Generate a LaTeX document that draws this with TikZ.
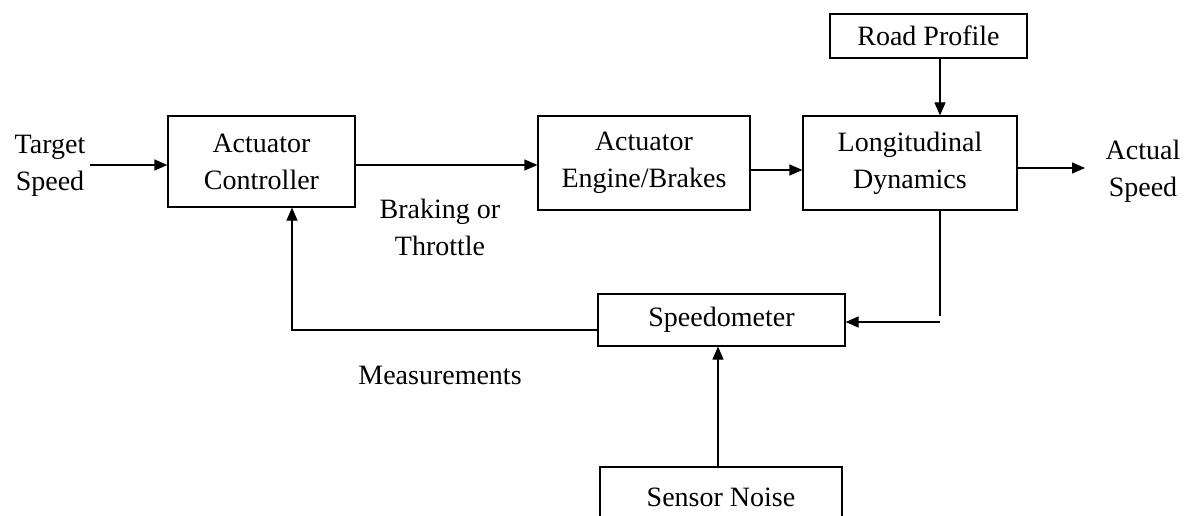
\documentclass[tikz,border=0pt]{standalone}
\usepackage{fontspec}
\setmainfont{Liberation Serif}
\usetikzlibrary{arrows.meta}
\begin{document}
\begin{tikzpicture}[x=1pt,y=-1pt,
  blk/.style={draw, line width=1.2pt, rectangle, inner sep=0pt, align=center, font=\fontsize{28}{37}\selectfont},
  lbl/.style={align=center, inner sep=0pt, font=\fontsize{28}{37}\selectfont},
  arr/.style={line width=1.2pt, -{Triangle[length=13pt,width=11pt]}},
  ln/.style={line width=1.2pt}]
\clip (0,0) rectangle (1194,516);
\fill[white] (0,0) rectangle (1194,516);
\node[blk, minimum width=187pt, minimum height=91pt] (ctrl) at (261.5,161.5) {Actuator\\Controller};
\node[blk, minimum width=212pt, minimum height=94pt] (eng) at (644,163) {Actuator\\Engine/Brakes};
\node[blk, minimum width=214pt, minimum height=94pt] (long) at (910,163) {Longitudinal\\Dynamics};
\node[blk, minimum width=197pt, minimum height=44pt] (road) at (928.5,36) {Road Profile};
\node[blk, minimum width=247pt, minimum height=52pt] (spd) at (721.5,320) {\raisebox{-7pt}{Speedometer}};
\node[blk, minimum width=242pt, minimum height=70pt] (noise) at (721,502) {\raisebox{9pt}{Sensor Noise}};
\node[lbl] (target) at (50,166) {Target\\Speed};
\node[lbl] (actual) at (1143,171) {Actual\\Speed};
\node[lbl] (brake) at (440,227) {Braking or\\Throttle};
\node[lbl] (meas) at (440,375) {Measurements};
\coordinate (corner) at (940,322);
\coordinate (tstart) at (90,165);
\draw[arr] (tstart) -- (ctrl.west |- tstart);
\draw[arr] (ctrl.east |- 0,165) -- (eng.west |- 0,165);
\draw[arr] (eng.east |- 0,170) -- (long.west |- 0,170);
\draw[arr] (long.east |- 0,168) -- (1085,168);
\draw[arr] (road.south -| corner) -- (long.north -| corner);
\draw[ln] (long.south -| corner) -- ([yshift=6pt]corner);
\draw[arr] (corner) -- (spd.east |- corner);
\draw[arr] (spd.west |- 0,330) -| (ctrl.south -| 292,0);
\draw[arr] (noise.north -| 718,0) -- (spd.south -| 718,0);
\end{tikzpicture}
\end{document}
